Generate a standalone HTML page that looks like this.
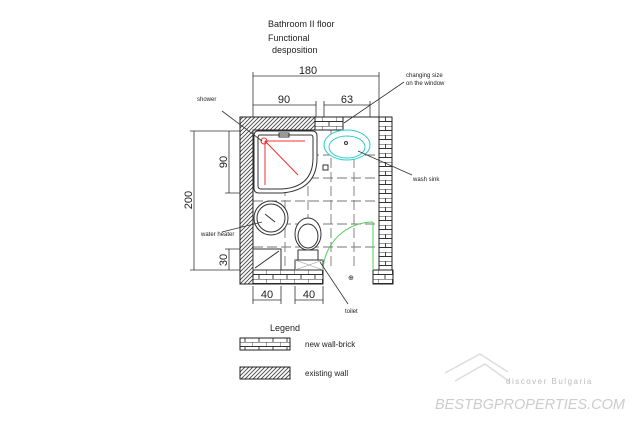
<!DOCTYPE html>
<html><head><style>body{margin:0;background:#fff}svg{display:block}text{font-family:"Liberation Sans",sans-serif;fill:#222}</style></head><body>
<svg width="640" height="421" viewBox="0 0 640 421" xmlns="http://www.w3.org/2000/svg">
<defs>
<pattern id="hat" width="4" height="4" patternUnits="userSpaceOnUse"><rect width="4" height="4" fill="#fff"/><path d="M0 4L4 0M-1 1L1 -1M3 5L5 3" stroke="#444" stroke-width="0.9"/></pattern>
<pattern id="brk" width="14" height="9" patternUnits="userSpaceOnUse"><rect width="14" height="9" fill="#fff"/><path d="M0 0H14M0 4.5H14M0 0V4.5M7 4.5V9" stroke="#333" stroke-width="0.9" fill="none"/></pattern>
<pattern id="brkv" width="13" height="9" patternUnits="userSpaceOnUse" x="379"><rect width="13" height="9" fill="#fff"/><path d="M0 0H13M0 4.5H13M6.5 0V4.5M0 4.5V9" stroke="#333" stroke-width="0.9" fill="none"/></pattern>
</defs>
<g font-size="9">
<text x="268" y="27">Bathroom II floor</text>
<text x="268" y="41">Functional</text>
<text x="272" y="53">desposition</text>
</g>
<g stroke="#777" stroke-width="0.9" stroke-dasharray="10 4" fill="none">
<path d="M253 155H379M253 178H379M253 201H379M253 224H379M253 247H379"/>
<path d="M285 130V270M308 130V270M331 130V270M354 130V270"/>
</g>
<path d="M240 117H315V130H253V270H253V284H240Z" fill="url(#hat)" stroke="#222" stroke-width="1"/>
<rect x="253" y="270" width="70" height="14" fill="url(#brk)" stroke="#222"/>
<rect x="315" y="117" width="28" height="13" fill="url(#brk)" stroke="#222"/>
<rect x="379" y="117" width="13" height="153" fill="url(#brkv)" stroke="#222"/>
<rect x="373" y="270" width="20" height="14" fill="url(#brk)" stroke="#222"/>
<line x1="343" y1="117" x2="379" y2="117" stroke="#222"/>
<path d="M258 131H312Q317 131 317 136V158Q317 190 282 193H259Q254 193 254 188V136Q254 131 258 131Z" fill="#fff" stroke="#333"/>
<path d="M260 135H311Q313 135 313 138V158Q313 187 282 189H261Q258 189 258 186V138Q258 135 260 135Z" fill="none" stroke="#333"/>
<g stroke="#e33" fill="none"><line x1="265" y1="141" x2="305" y2="141"/><line x1="265" y1="141" x2="265" y2="185"/><line x1="265" y1="141" x2="298" y2="175"/><circle cx="264" cy="141" r="3"/></g>
<rect x="279" y="133" width="10" height="4" fill="none" stroke="#333"/>
<rect x="323" y="165" width="5" height="5" fill="none" stroke="#333"/>
<circle cx="271" cy="218" r="17" fill="#fff" stroke="#333"/><circle cx="271" cy="218" r="14" fill="none" stroke="#333"/>
<line x1="265" y1="214" x2="275" y2="222" stroke="#333"/>
<rect x="253" y="249" width="28" height="21" fill="#fff" stroke="#333"/><line x1="255" y1="268" x2="279" y2="251" stroke="#333"/>
<ellipse cx="308" cy="234" rx="13" ry="16" fill="#fff" stroke="#333"/><ellipse cx="308" cy="236" rx="10" ry="12" fill="none" stroke="#333"/>
<rect x="298" y="250" width="20" height="10" fill="#fff" stroke="#333"/>
<rect x="295" y="260" width="28" height="10" fill="#fff" stroke="#333"/><path d="M295 260L323 270M323 260L295 270" stroke="#999" stroke-width="0.6"/>
<ellipse cx="347" cy="145" rx="23" ry="15" fill="#fff" stroke="#3cc"/><ellipse cx="347" cy="147" rx="18" ry="11" fill="none" stroke="#3cc"/>
<circle cx="346" cy="143" r="1.5" fill="none" stroke="#333"/>
<path d="M323 270A50 50 0 0 1 373 222" fill="none" stroke="#5c5"/><line x1="373" y1="222" x2="373" y2="270" stroke="#5c5"/>
<text x="348" y="280" font-size="7">⊕</text>
<g stroke="#333" stroke-width="0.8" fill="none">
<path d="M253 76H379M253 72V117M379 72V117M253 105H316M253 101V117M316 101V117M324 105H370M324 101V117M370 101V117"/>
<path d="M194 131V270M190 131H240M190 270H240M229 131V193M225 131H240M225 193H240M229 249V270M225 249H240"/>
<path d="M253 300H281M253 286V304M281 286V304M295 300H323M295 286V304M323 286V304"/>
<path d="M222 111L262 141M344 123L404 82M358 151L412 175M222 232L262 222M320 262L348 304"/>
</g>
<g font-size="11" fill="#333">
<text x="308" y="74" text-anchor="middle">180</text>
<text x="284" y="103" text-anchor="middle">90</text>
<text x="347" y="103" text-anchor="middle">63</text>
<text x="192" y="200" text-anchor="middle" transform="rotate(-90 192 200)">200</text>
<text x="227" y="162" text-anchor="middle" transform="rotate(-90 227 162)">90</text>
<text x="227" y="260" text-anchor="middle" transform="rotate(-90 227 260)">30</text>
<text x="267" y="298" text-anchor="middle">40</text>
<text x="309" y="298" text-anchor="middle">40</text>
</g>
<g font-size="6">
<text x="197" y="101">shower</text>
<text x="201" y="236">water heater</text>
<text x="406" y="77">changing size</text>
<text x="406" y="85">on the window</text>
<text x="413" y="181">wash sink</text>
<text x="345" y="313">toilet</text>
</g>
<text x="270" y="331" font-size="9">Legend</text>
<rect x="240" y="338" width="50" height="12" fill="url(#brk)" stroke="#222"/>
<text x="305" y="347" font-size="8">new wall-brick</text>
<rect x="240" y="367" width="50" height="12" fill="url(#hat)" stroke="#222"/>
<text x="305" y="376" font-size="8">existing wall</text>
<g stroke="#ddd" fill="none" stroke-width="1.5"><path d="M445 373L480 354L508 372M455 381L485 364L510 382"/></g>
<text x="506" y="384" font-size="8" style="fill:#bbb" letter-spacing="1.5">discover Bulgaria</text>
<text x="435" y="409" font-size="15" font-style="italic" style="fill:#ccc" textLength="190" lengthAdjust="spacingAndGlyphs">BESTBGPROPERTIES.COM</text>
</svg>
</body></html>
